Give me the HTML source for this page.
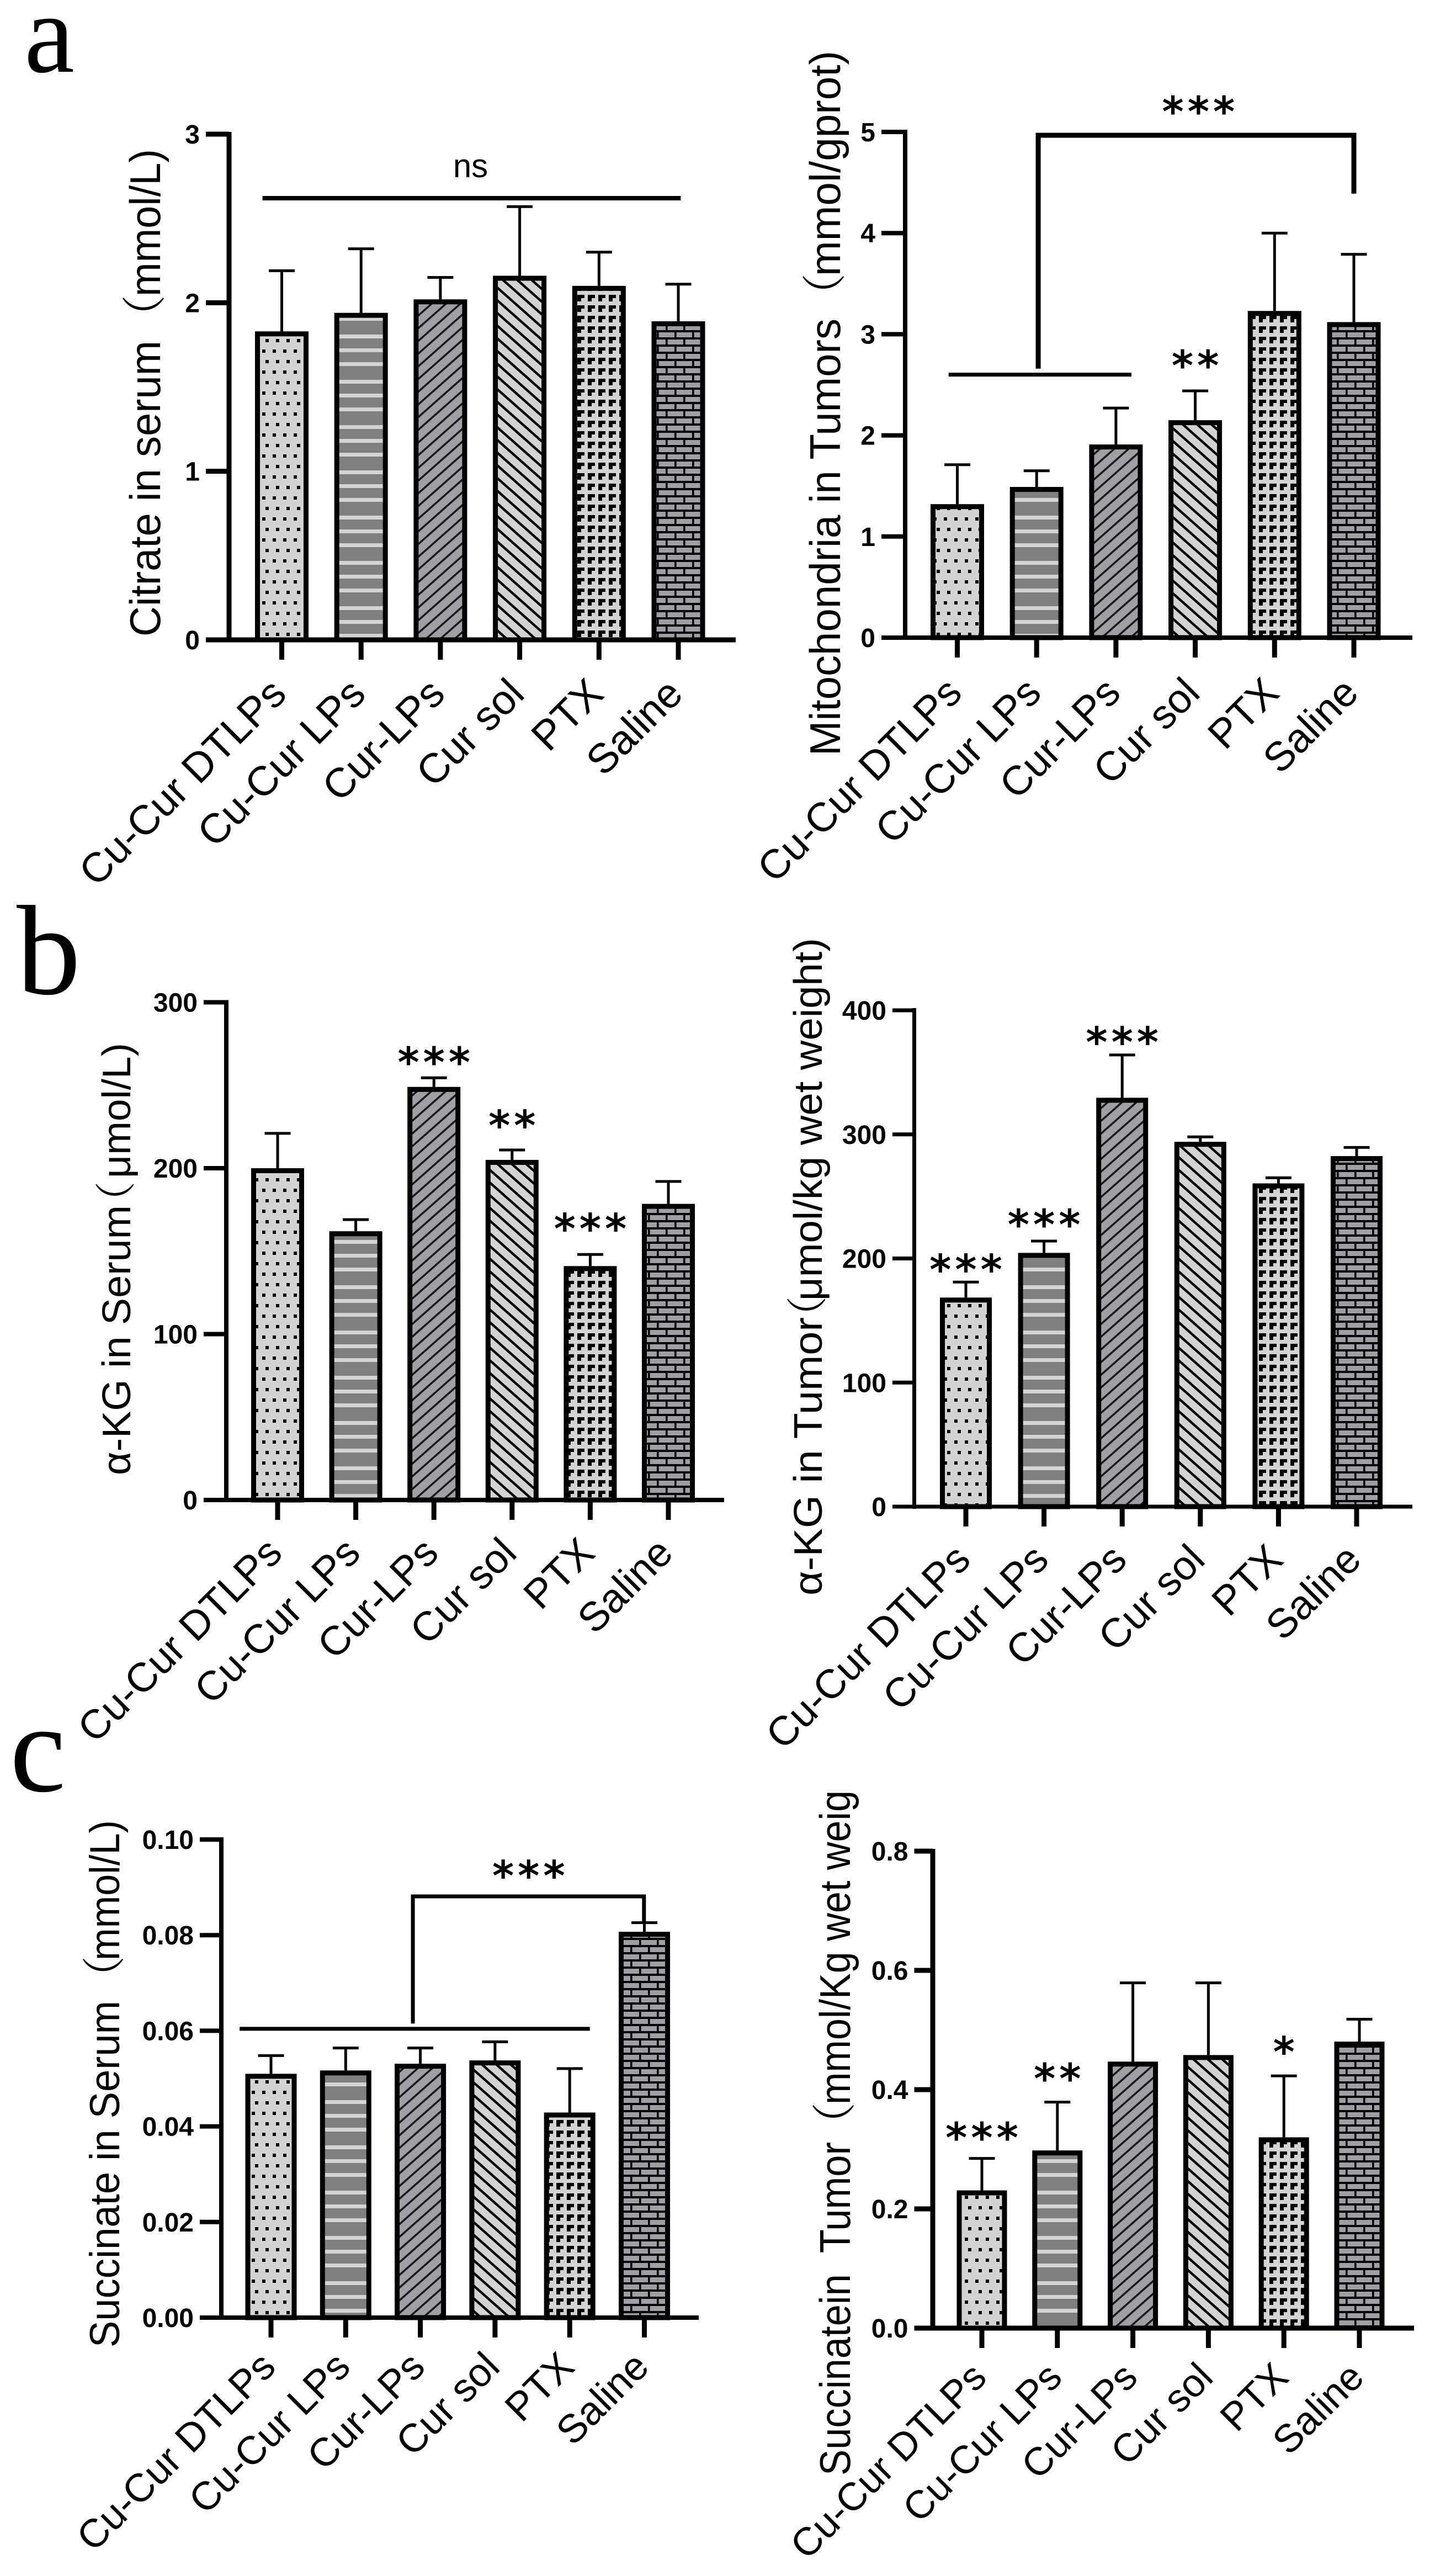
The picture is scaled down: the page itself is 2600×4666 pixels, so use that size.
<!DOCTYPE html>
<html>
<head>
<meta charset="utf-8">
<title>Metabolite bar charts</title>
<style>
html,body{margin:0;padding:0;background:#fff;}
#figure{display:block;width:2600px;height:4666px;}
text{font-family:"Liberation Sans","Noto Sans CJK SC",sans-serif;fill:#000;}
text.paren{font-family:"Noto Serif CJK SC","Noto Sans CJK SC",serif;}
.panel-letter{font-family:"Liberation Serif",serif;}
</style>
</head>
<body>
<svg id="figure" xmlns="http://www.w3.org/2000/svg" width="2600" height="4666" viewBox="0 0 2600 4666">
<defs>
<pattern id="p-dots" patternUnits="userSpaceOnUse" width="38" height="38">
<rect width="38" height="38" fill="#d3d3d3"/>
<rect x="6" y="6" width="6" height="6" fill="#000"/><rect x="25" y="6" width="6" height="6" fill="#000"/>
<rect x="0" y="25" width="6" height="6" fill="#000"/><rect x="19" y="25" width="6" height="6" fill="#000"/>
</pattern>
<pattern id="p-stripes" patternUnits="userSpaceOnUse" width="40" height="82">
<rect width="40" height="82" fill="#808080"/>
<rect y="0" width="40" height="7" fill="#d3d3d3"/><rect y="32" width="40" height="7" fill="#d3d3d3"/><rect y="57" width="40" height="7" fill="#d3d3d3"/>
</pattern>
<pattern id="p-diag" patternUnits="userSpaceOnUse" width="26" height="23">
<rect width="26" height="23" fill="#a0a0a4"/>
<path d="M-4 26.5L30 -3.5M-30 26.5L4 -3.5M22 26.5L56 -3.5" stroke="#1a1a1a" stroke-width="3.6" fill="none"/>
</pattern>
<pattern id="p-back" patternUnits="userSpaceOnUse" width="26" height="23">
<rect width="26" height="23" fill="#d3d3d3"/>
<path d="M-4 -3.5L30 26.5M-30 -3.5L4 26.5M22 -3.5L56 26.5" stroke="#000" stroke-width="4.4" fill="none"/>
</pattern>
<pattern id="p-blocks" patternUnits="userSpaceOnUse" width="19" height="19">
<rect width="19" height="19" fill="#d3d3d3"/>
<path d="M1 2H14V8H8V14H1Z" fill="#000"/>
</pattern>
<pattern id="p-bricks" patternUnits="userSpaceOnUse" width="32" height="26">
<rect width="32" height="26" fill="#a0a0a4"/>
<rect y="0" width="32" height="4" fill="#000"/><rect y="13" width="32" height="4" fill="#000"/>
<rect x="6" y="0" width="3.6" height="13" fill="#000"/><rect x="22" y="13" width="3.6" height="13" fill="#000"/>
</pattern>
<clipPath id="clip-succinate-title"><rect x="1400" y="3247" width="300" height="1300"/></clipPath>
</defs>

<text class="panel-letter" x="44" y="130" font-size="205">a</text>
<text class="panel-letter" x="30" y="1800" font-size="232">b</text>
<text class="panel-letter" x="18" y="3244" font-size="228">c</text>

<g id="chart-citrate">
<g>
<text font-size="78" transform="translate(290 1153) rotate(-90)" textLength="536" lengthAdjust="spacingAndGlyphs">Citrate in serum</text>
<text class="paren" font-size="80" transform="translate(290 614) rotate(-90)">（</text>
<text font-size="78" transform="translate(290 537) rotate(-90)" textLength="267" lengthAdjust="spacingAndGlyphs">mmol/L)</text>
</g>
</g>
<g id="chart-mito">
<g>
<text font-size="78" transform="translate(1522 1369) rotate(-90)" textLength="792" lengthAdjust="spacingAndGlyphs">Mitochondria in Tumors</text>
<text class="paren" font-size="80" transform="translate(1522 575) rotate(-90)">（</text>
<text font-size="78" transform="translate(1522 500) rotate(-90)" textLength="408" lengthAdjust="spacingAndGlyphs">mmol/gprot)</text>
</g>
</g>
<g id="chart-akg-serum">
<g>
<text font-size="72" transform="translate(236 2672) rotate(-90)" textLength="489" lengthAdjust="spacingAndGlyphs">α-KG in Serum</text>
<text class="paren" font-size="74" transform="translate(236 2214) rotate(-90)">（</text>
<text font-size="72" transform="translate(236 2134) rotate(-90)" textLength="245" lengthAdjust="spacingAndGlyphs">μmol/L)</text>
</g>
</g>
<g id="chart-akg-tumor">
<g>
<text font-size="72" transform="translate(1489 2890) rotate(-90)" textLength="504" lengthAdjust="spacingAndGlyphs">α-KG in Tumor</text>
<text class="paren" font-size="74" transform="translate(1489 2422) rotate(-90)">（</text>
<text font-size="72" transform="translate(1489 2356) rotate(-90)" textLength="657" lengthAdjust="spacingAndGlyphs">μmol/kg wet weight)</text>
</g>
</g>
<g id="chart-succ-serum">
<g>
<text font-size="76" transform="translate(216 4252) rotate(-90)" textLength="628" lengthAdjust="spacingAndGlyphs">Succinate in Serum</text>
<text class="paren" font-size="78" transform="translate(216 3621) rotate(-90)">（</text>
<text font-size="76" transform="translate(216 3551) rotate(-90)" textLength="254" lengthAdjust="spacingAndGlyphs">mmol/L)</text>
</g>
</g>
<g id="chart-succ-tumor">
<g clip-path="url(#clip-succinate-title)">
<text font-size="78" transform="translate(1540 4484) rotate(-90)" textLength="604" lengthAdjust="spacingAndGlyphs" xml:space="preserve">Succinatein  Tumor</text>
<text class="paren" font-size="80" transform="translate(1540 3888) rotate(-90)">（</text>
<text font-size="78" transform="translate(1540 3812) rotate(-90)" textLength="651" lengthAdjust="spacingAndGlyphs">mmol/Kg wet weight)</text>
</g>
</g>
</svg>

<script>
const categories = ['Cu-Cur DTLPs', 'Cu-Cur LPs', 'Cur-LPs', 'Cur sol', 'PTX', 'Saline'];
const barPatterns = ['p-dots', 'p-stripes', 'p-diag', 'p-back', 'p-blocks', 'p-bricks'];

const citrateTicks = ['0', '1', '2', '3'];
const citrateValues = [1.83, 1.94, 2.02, 2.16, 2.10, 1.89];
const citrateErrorTops = [2.19, 2.32, 2.15, 2.57, 2.30, 2.11];
const citrateMarks = [{ text: 'ns', at: 2.38, level: 2.81 }];
const citrateLines = [{ from: -0.243, to: 5.03, level: 2.62, w: 8 }];
const citrateBrackets = [];

const mitoTicks = ['0', '1', '2', '3', '4', '5'];
const mitoValues = [1.32, 1.49, 1.91, 2.15, 3.23, 3.12];
const mitoErrorTops = [1.71, 1.65, 2.27, 2.44, 4.00, 3.79];
const mitoMarks = [{ text: '***', at: 3.04, level: 5.27 }, { text: '**', at: 3, level: 2.76 }];
const mitoLines = [{ from: -0.11, to: 2.195, level: 2.60, w: 7 }];
const mitoBrackets = [{ from: 1.02, to: 5, level: 4.967, leftEnd: 2.66, rightEnd: 4.39, w: 9 }];

const akgSerumTicks = ['0', '100', '200', '300'];
const akgSerumValues = [200, 162, 249, 205, 141, 178.5];
const akgSerumErrorTops = [221, 169, 254.5, 211, 148, 192];
const akgSerumMarks = [{ text: '***', at: 2, level: 268 }, { text: '**', at: 3, level: 230 }, { text: '***', at: 4, level: 167.7 }];
const akgSerumLines = [];
const akgSerumBrackets = [];

const akgTumorTicks = ['0', '100', '200', '300', '400'];
const akgTumorValues = [168.5, 204.5, 329.5, 294, 260.5, 282.5];
const akgTumorErrorTops = [181, 214, 364, 298, 265, 289.5];
const akgTumorMarks = [{ text: '***', at: 0, level: 196.7 }, { text: '***', at: 1, level: 233 }, { text: '***', at: 2, level: 380 }];
const akgTumorLines = [];
const akgTumorBrackets = [];

const succSerumTicks = ['0.00', '0.02', '0.04', '0.06', '0.08', '0.10'];
const succSerumValues = [0.051, 0.0517, 0.0531, 0.0538, 0.0429, 0.0807];
const succSerumErrorTops = [0.0548, 0.0564, 0.0564, 0.0577, 0.0521, 0.0826];
const succSerumMarks = [{ text: '***', at: 3.45, level: 0.0939 }];
const succSerumLines = [{ from: -0.42, to: 4.27, level: 0.0604, w: 7 }];
const succSerumBrackets = [{ from: 1.9, to: 4.995, level: 0.0881, leftEnd: 0.0615, rightEnd: 0.0826, w: 7 }];

const succTumorTicks = ['0.0', '0.2', '0.4', '0.6', '0.8'];
const succTumorValues = [0.231, 0.298, 0.447, 0.458, 0.320, 0.4805];
const succTumorErrorTops = [0.2846, 0.379, 0.579, 0.579, 0.423, 0.518];
const succTumorMarks = [{ text: '***', at: 0, level: 0.331 }, { text: '**', at: 1, level: 0.43 }, { text: '*', at: 4, level: 0.475 }];
const succTumorLines = [];
const succTumorBrackets = [];

const SVGNS = 'http://www.w3.org/2000/svg';

function svgEl(tag, parent, attrs) {
  const el = document.createElementNS(SVGNS, tag);
  for (const k in attrs) el.setAttribute(k, attrs[k]);
  parent.appendChild(el);
  return el;
}

function drawChart(cfg) {
  const root = document.getElementById(cfg.id);
  const yMax = parseFloat(cfg.ticks[cfg.ticks.length - 1]);
  const yScale = v => cfg.y0 - (v / yMax) * (cfg.y0 - cfg.yTop);
  const xScale = i => cfg.x0 + i * (cfg.xLast - cfg.x0) / (categories.length - 1);
  const half = cfg.barW / 2;

  cfg.values.forEach((v, i) => {
    const bar = svgEl('rect', root, {
      x: xScale(i) - half + 4.5,
      y: yScale(v) + 4.5,
      width: cfg.barW - 9,
      height: Math.max(0, cfg.y0 - yScale(v) - 4.5),
      fill: 'url(#' + barPatterns[i] + ')',
      stroke: '#000',
      'stroke-width': 9
    });
    
    

    const stem = svgEl('line', root, {
      x1: xScale(i), x2: xScale(i),
      y1: yScale(v), y2: yScale(cfg.errorTops[i]),
      stroke: '#000', 'stroke-width': 5
    });
    
    

    const cap = svgEl('line', root, {
      x1: xScale(i) - 23.5, x2: xScale(i) + 23.5,
      y1: yScale(cfg.errorTops[i]), y2: yScale(cfg.errorTops[i]),
      stroke: '#000', 'stroke-width': 5
    });
    
    
  });

  const yAxis = svgEl('line', root, {
    x1: cfg.axisX, x2: cfg.axisX,
    y1: cfg.yTop - 4, y2: cfg.y0 + 4,
    stroke: '#000', 'stroke-width': cfg.axisW
  });
  
  

  const xAxis = svgEl('line', root, {
    x1: cfg.tickLeft, x2: cfg.xEnd,
    y1: cfg.y0, y2: cfg.y0,
    stroke: '#000', 'stroke-width': cfg.axisW
  });
  
  

  cfg.ticks.forEach(label => {
    const v = parseFloat(label);
    const tick = svgEl('line', root, {
      x1: cfg.tickLeft, x2: cfg.axisX,
      y1: yScale(v), y2: yScale(v),
      stroke: '#000', 'stroke-width': cfg.axisW
    });
    
    

    const tickText = svgEl('text', root, {
      x: cfg.tickLeft - 11,
      y: yScale(v) + 17,
      'text-anchor': 'end',
      'font-size': 48,
      'font-weight': 'bold'
    });
    tickText.textContent = label;
    
    
  });

  categories.forEach((name, i) => {
    const tick = svgEl('line', root, {
      x1: xScale(i), x2: xScale(i),
      y1: cfg.y0, y2: cfg.y0 + 36,
      stroke: '#000', 'stroke-width': 9
    });
    
    

    const ax = xScale(i) + 12;
    const ay = cfg.y0 + cfg.labelDrop;
    const label = svgEl('text', root, {
      transform: 'translate(' + ax + ' ' + ay + ') rotate(-45)',
      'text-anchor': 'end',
      'font-size': cfg.labelFont
    });
    label.textContent = name;
    
    
  });

  cfg.lines.forEach(l => {
    const line = svgEl('line', root, {
      x1: xScale(l.from), x2: xScale(l.to),
      y1: yScale(l.level), y2: yScale(l.level),
      stroke: '#000', 'stroke-width': l.w
    });
    
    
  });

  cfg.brackets.forEach(b => {
    const path = svgEl('path', root, {
      d: 'M' + xScale(b.from) + ' ' + yScale(b.leftEnd) +
         'V' + yScale(b.level) +
         'H' + xScale(b.to) +
         'V' + yScale(b.rightEnd),
      fill: 'none', stroke: '#000', 'stroke-width': b.w
    });
    
    
  });

  cfg.marks.forEach(m => {
    const isStars = m.text.charAt(0) === '*';
    const mark = svgEl('text', root, {
      x: xScale(m.at) + (isStars ? 3.5 : 0),
      y: yScale(m.level) + (isStars ? 39 : 20),
      'text-anchor': 'middle',
      'font-size': isStars ? 75 : 60,
      'font-weight': isStars ? 'bold' : 'normal',
      'letter-spacing': isStars ? 7 : 0
    });
    if (isStars) mark.style.fontFamily = '"DejaVu Sans", sans-serif';
    mark.textContent = m.text;
    
    
  });
}

drawChart({ id: 'chart-citrate', ticks: citrateTicks, values: citrateValues, errorTops: citrateErrorTops, marks: citrateMarks, lines: citrateLines, brackets: citrateBrackets,
  axisX: 415, axisW: 9, tickLeft: 373, xEnd: 1333, yTop: 243, y0: 1159, x0: 510.5, xLast: 1229, barW: 97, labelFont: 75, labelDrop: 102 });
drawChart({ id: 'chart-mito', ticks: mitoTicks, values: mitoValues, errorTops: mitoErrorTops, marks: mitoMarks, lines: mitoLines, brackets: mitoBrackets,
  axisX: 1640, axisW: 8, tickLeft: 1597, xEnd: 2559, yTop: 239, y0: 1155, x0: 1734.5, xLast: 2453, barW: 97, labelFont: 74, labelDrop: 104 });
drawChart({ id: 'chart-akg-serum', ticks: akgSerumTicks, values: akgSerumValues, errorTops: akgSerumErrorTops, marks: akgSerumMarks, lines: akgSerumLines, brackets: akgSerumBrackets,
  axisX: 410, axisW: 8, tickLeft: 369, xEnd: 1312, yTop: 1815.5, y0: 2717, x0: 503, xLast: 1211, barW: 96, labelFont: 74, labelDrop: 100 });
drawChart({ id: 'chart-akg-tumor', ticks: akgTumorTicks, values: akgTumorValues, errorTops: akgTumorErrorTops, marks: akgTumorMarks, lines: akgTumorLines, brackets: akgTumorBrackets,
  axisX: 1656.5, axisW: 7, tickLeft: 1617, xEnd: 2559, yTop: 1830, y0: 2729, x0: 1750, xLast: 2458, barW: 94, labelFont: 74, labelDrop: 100 });
drawChart({ id: 'chart-succ-serum', ticks: succSerumTicks, values: succSerumValues, errorTops: succSerumErrorTops, marks: succSerumMarks, lines: succSerumLines, brackets: succSerumBrackets,
  axisX: 401, axisW: 8, tickLeft: 362, xEnd: 1266, yTop: 3332, y0: 4198, x0: 491, xLast: 1167.5, barW: 93, labelFont: 72, labelDrop: 93 });
drawChart({ id: 'chart-succ-tumor', ticks: succTumorTicks, values: succTumorValues, errorTops: succTumorErrorTops, marks: succTumorMarks, lines: succTumorLines, brackets: succTumorBrackets,
  axisX: 1690, axisW: 9, tickLeft: 1656.5, xEnd: 2562, yTop: 3353, y0: 4217, x0: 1779, xLast: 2463, barW: 91, labelFont: 71, labelDrop: 93 });
</script>
</body>
</html>
